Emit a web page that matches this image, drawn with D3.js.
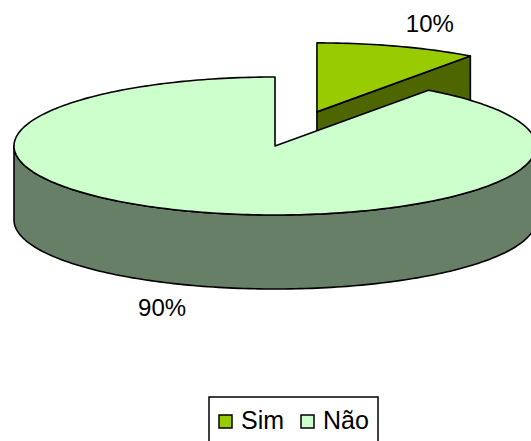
<!DOCTYPE html>
<html>
<head>
<meta charset="utf-8">
<script src="https://cdn.jsdelivr.net/npm/d3@7"></script>
<style>
  body { margin: 0; background: #fff; }
  text { font-family: Arial, "Liberation Sans", sans-serif; fill: #000; }
</style>
</head>
<body>
<svg width="531" height="441"></svg>
<script>
var categories = ["Sim", "Não"];
var values = [10, 90];
var pctLabels = ["10%", "90%"];

var topColor = d3.scaleOrdinal().domain(categories).range(["#99cc00", "#ccffcc"]);
var sideColor = d3.scaleOrdinal().domain(categories).range(["#4d6600", "#667f66"]);

var c = { x: 275, y: 146 }, rx = 261, ry = 69, depth = 74;
var explode = { "Sim": 0.52 };

var svg = d3.select("svg");
var line = d3.line();

var pie = d3.pie().sort(null).value(d => d.value);
var arcs = pie(categories.map((k, i) => ({ key: k, value: values[i], label: pctLabels[i] })));

function pt(a, o, dy) {
    return [c.x + o[0] + rx * Math.sin(a), c.y + o[1] - ry * Math.cos(a) + (dy || 0)];
}
function arcPts(a0, a1, o, dy) {
    var n = Math.max(2, Math.ceil((a1 - a0) / 0.02)), p = [];
    for (var i = 0; i <= n; i++) p.push(pt(a0 + (a1 - a0) * i / n, o, dy));
    return p;
}

arcs.forEach(d => {
    var k = explode[d.data.key] || 0;
    var mid = (d.startAngle + d.endAngle) / 2;
    var o = [k * rx * Math.sin(mid), -k * ry * Math.cos(mid)];
    var ctr = [c.x + o[0], c.y + o[1]];
    var g = svg.append("g").attr("class", "slice");

    // cut face at the end angle (faces the viewer when it is on the right half)
    if (d.endAngle < Math.PI) {
        var e = pt(d.endAngle, o);
        g.append("path")
            .attr("d", line([ctr, e, [e[0], e[1] + depth], [ctr[0], ctr[1] + depth]]) + "Z")
            .attr("fill", sideColor(d.data.key));
    }
    // outer wall, only the front half
    var w0 = Math.max(d.startAngle, Math.PI / 2), w1 = Math.min(d.endAngle, 3 * Math.PI / 2);
    if (w1 > w0) {
        var pts = arcPts(w0, w1, o).concat(arcPts(w0, w1, o, depth).reverse());
        g.append("path").attr("d", line(pts) + "Z").attr("fill", sideColor(d.data.key));
    }
    // top face
    g.append("path")
        .attr("d", line([ctr].concat(arcPts(d.startAngle, d.endAngle, o))) + "Z")
        .attr("fill", topColor(d.data.key));

    g.selectAll("path")
        .attr("stroke", "#000")
        .attr("stroke-width", 1.6)
        .attr("stroke-linejoin", "round");

    // percent label outside the slice
    var lx = c.x + o[0] + 1.40 * rx * Math.sin(mid);
    var ly = c.y + o[1] - 1.34 * ry * Math.cos(mid) + (Math.cos(mid) < 0 ? depth : 0);
    svg.append("text")
        .attr("x", lx).attr("y", ly + 8.5)
        .attr("text-anchor", "middle")
        .attr("font-size", 24)
        .text(d.data.label);
});

// legend
var legend = svg.append("g").attr("transform", "translate(209,397)");
legend.append("rect")
    .attr("width", 169).attr("height", 48)
    .attr("fill", "#fff").attr("stroke", "#000").attr("stroke-width", 1.5);
var lx = d3.scalePoint().domain(categories).range([10, 92]);
var item = legend.selectAll("g.item")
    .data(categories)
    .enter()
    .append("g")
    .attr("class", "item")
    .attr("transform", d => "translate(" + lx(d) + ",18)");
item.append("rect")
    .attr("width", 13).attr("height", 13)
    .attr("fill", d => topColor(d))
    .attr("stroke", "#000").attr("stroke-width", 1.5);
item.append("text")
    .attr("x", 22).attr("y", 14)
    .attr("font-size", 25)
    .text(d => d);
</script>
</body>
</html>
